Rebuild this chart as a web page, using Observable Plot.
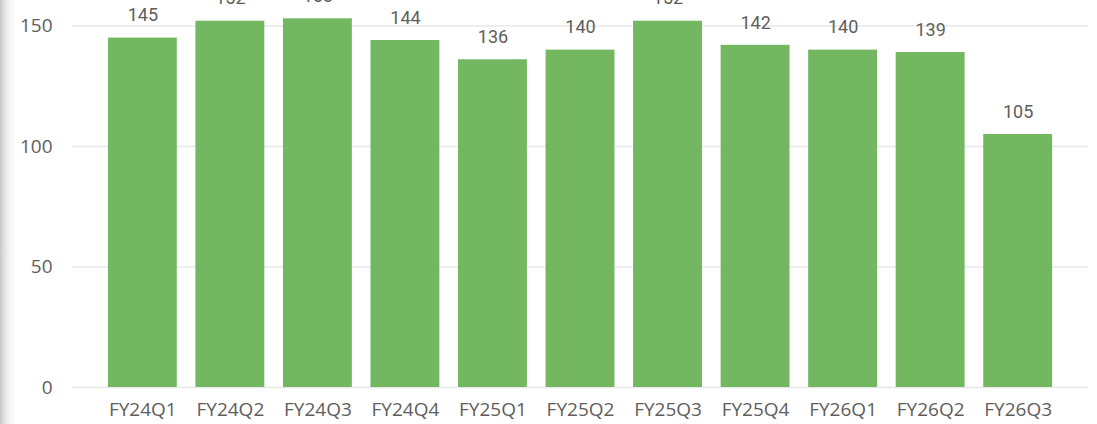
<!DOCTYPE html>
<html>
<head>
<meta charset="utf-8">
<script src="https://cdn.jsdelivr.net/npm/d3@7"></script>
<script src="https://cdn.jsdelivr.net/npm/@observablehq/plot@0.6"></script>
<style>
  html, body { margin: 0; padding: 0; background: #fff; overflow: hidden; }
  #wrap { position: relative; width: 1097px; height: 424px; }
  #shade {
    position: absolute; left: 0; top: 0; width: 16px; height: 424px;
    background: linear-gradient(to right, #c6c6c8 0px, #dcdcde 3px, #ededee 7px, #f8f8f8 11px, #ffffff 16px);
    pointer-events: none;
  }
</style>
</head>
<body>
<div id="wrap"><div id="shade"></div></div>
<script>
// Quarterly totals
const quarters = ["FY24Q1", "FY24Q2", "FY24Q3", "FY24Q4", "FY25Q1", "FY25Q2", "FY25Q3", "FY25Q4", "FY26Q1", "FY26Q2", "FY26Q3"];
const values = [145, 152, 153, 144, 136, 140, 152, 142, 140, 139, 105];
const yTicks = [0, 50, 100, 150];

const data = quarters.map((q, i) => ({quarter: q, value: values[i]}));

const axisColor = "#605E5C";
const barColor = "#73B761";
const gridColor = "#E8E8E8";

const chart = Plot.plot({
  width: 1097,
  height: 424,
  marginTop: 0,
  marginBottom: 37,
  marginLeft: 72,
  marginRight: 9,
  style: {background: "transparent", overflow: "visible"},
  x: {domain: quarters, paddingInner: 0.213, paddingOuter: 0.41, round: false, label: null},
  y: {domain: [0, 160.6], label: null},
  marks: [
    Plot.ruleY(yTicks, {stroke: gridColor, strokeWidth: 1.6}),
    Plot.barY(data, {x: "quarter", y: "value", fill: barColor}),
    Plot.text(data, {
      x: "quarter", y: "value", text: d => String(d.value),
      dy: -22.5, lineAnchor: "middle",
      fill: axisColor, fontSize: 18,
      fontFamily: "Roboto, 'DejaVu Sans Condensed', sans-serif"
    }),
    Plot.axisX({
      tickSize: 0, tickPadding: 15, label: null,
      fill: axisColor, fontSize: 19,
      fontFamily: "'Segoe UI', 'Open Sans', sans-serif"
    }),
    Plot.axisY({
      ticks: yTicks, tickSize: 0, tickPadding: 20, label: null,
      fill: axisColor, fontSize: 19,
      fontFamily: "'Segoe UI', 'Open Sans', sans-serif"
    })
  ]
});

document.getElementById("wrap").prepend(chart);
</script>
</body>
</html>
